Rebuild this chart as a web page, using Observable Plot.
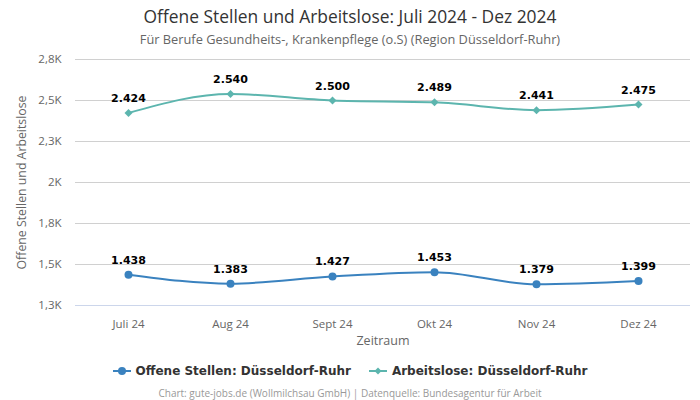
<!DOCTYPE html>
<html>
<head>
<meta charset="utf-8">
<script src="https://cdn.jsdelivr.net/npm/d3@7"></script>
<script src="https://cdn.jsdelivr.net/npm/@observablehq/plot@0.6"></script>
<style>
  html, body { margin: 0; padding: 0; background: #fff; width: 700px; height: 400px; overflow: hidden; }
  #wrap { position: relative; width: 700px; height: 400px; }
  .title { position: absolute; top: 4px; left: 0; width: 700px; text-align: center; font-family: "Open Sans", sans-serif; font-size: 17.4px; color: #333; line-height: 24px; }
  .subtitle { position: absolute; top: 30px; left: 0; width: 700px; text-align: center; font-family: "Open Sans", sans-serif; font-size: 12.8px; color: #666; line-height: 18px; }
  #chart { position: absolute; top: 50px; left: 0; }
  .legend { position: absolute; top: 364px; left: 0; width: 700px; display: flex; justify-content: center; gap: 18px; font-family: "DejaVu Sans", sans-serif; font-weight: bold; font-size: 12px; color: #333; }
  .legend .item { display: flex; align-items: center; gap: 5px; }
  .caption { position: absolute; top: 386px; left: 0; width: 700px; text-align: center; font-family: "Open Sans", sans-serif; font-size: 10px; color: #999; }
</style>
</head>
<body>
<div id="wrap">
  <div class="title">Offene Stellen und Arbeitslose: Juli 2024 - Dez 2024</div>
  <div class="subtitle">Für Berufe Gesundheits-, Krankenpflege (o.S) (Region Düsseldorf-Ruhr)</div>
  <div id="chart"></div>
  <div class="legend" id="legend"></div>
  <div class="caption">Chart: gute-jobs.de (Wollmilchsau GmbH) | Datenquelle: Bundesagentur für Arbeit</div>
</div>
<script>
const months = ["Juli 24", "Aug 24", "Sept 24", "Okt 24", "Nov 24", "Dez 24"];
const offeneStellen = [1438, 1383, 1427, 1453, 1379, 1399];
const arbeitslose = [2424, 2540, 2500, 2489, 2441, 2475];
const seriesNames = ["Offene Stellen: Düsseldorf-Ruhr", "Arbeitslose: Düsseldorf-Ruhr"];
const seriesColors = ["#3a82bf", "#5cb5ae"];
const yTicks = [1250, 1500, 1750, 2000, 2250, 2500, 2750];
const yTickLabels = ["1,3K", "1,5K", "1,8K", "2K", "2,3K", "2,5K", "2,8K"];
const xTitle = "Zeitraum";
const yTitle = "Offene Stellen und Arbeitslose";

const rows = [];
months.forEach((m, i) => {
  rows.push({month: m, value: offeneStellen[i], series: seriesNames[0]});
  rows.push({month: m, value: arbeitslose[i], series: seriesNames[1]});
});
const fmt = v => v.toLocaleString("de-DE");
const tickLabel = new Map(yTicks.map((t, i) => [t, yTickLabels[i]]));

const os = rows.filter(d => d.series === seriesNames[0]);
const al = rows.filter(d => d.series === seriesNames[1]);

const chart = Plot.plot({
  width: 700,
  height: 300,
  marginLeft: 75,
  marginRight: 10,
  marginTop: 9,
  marginBottom: 45,
  style: {fontFamily: "Open Sans, sans-serif", fontSize: "11px", color: "#666", background: "#fff", overflow: "visible"},
  x: {type: "point", domain: months, padding: 0.5, label: null},
  y: {domain: [1250, 2750], label: null},
  marks: [
    Plot.gridY(yTicks, {stroke: "#d0d0d0", strokeOpacity: 1, strokeWidth: 1}),
    Plot.ruleY([1250], {stroke: "#ccd6eb", strokeWidth: 1}),
    Plot.axisY({ticks: yTicks, tickSize: 0, tickPadding: 14, tickFormat: d => tickLabel.get(d), fill: "#666", fontSize: 11.5, label: null}),
    Plot.axisX({tickSize: 0, tickPadding: 14, fill: "#666", fontSize: 11.5, label: null}),
    Plot.text([yTitle], {frameAnchor: "left", rotate: -90, dx: -53, dy: 0, textAnchor: "middle", fill: "#666", fontSize: 12.3, text: d => d}),
    Plot.text([xTitle], {frameAnchor: "bottom", dy: 39, fill: "#666", fontSize: 12.5, text: d => d}),
    Plot.line(os, {x: "month", y: "value", stroke: seriesColors[0], strokeWidth: 2, curve: "monotone-x"}),
    Plot.line(al, {x: "month", y: "value", stroke: seriesColors[1], strokeWidth: 2, curve: "monotone-x"}),
    Plot.dot(os, {x: "month", y: "value", fill: seriesColors[0], r: 4, symbol: "circle"}),
    Plot.dot(al, {x: "month", y: "value", fill: seriesColors[1], r: 3.6, symbol: "diamond2"}),
    Plot.text(rows, {x: "month", y: "value", text: d => fmt(d.value), dy: -11, fill: "#000", fontWeight: "bold", fontSize: 11, fontFamily: "DejaVu Sans, sans-serif", lineAnchor: "bottom"})
  ]
});
document.getElementById("chart").appendChild(chart);

// Legend
const legend = document.getElementById("legend");
seriesNames.forEach((name, i) => {
  const item = document.createElement("div");
  item.className = "item";
  const marker = i === 0
    ? `<svg width="18" height="10"><line x1="0" y1="5" x2="18" y2="5" stroke="${seriesColors[i]}" stroke-width="2"/><circle cx="9" cy="5" r="4" fill="${seriesColors[i]}"/></svg>`
    : `<svg width="18" height="10"><line x1="0" y1="5" x2="18" y2="5" stroke="${seriesColors[i]}" stroke-width="2"/><path d="M9,1.5L12.5,5L9,8.5L5.5,5Z" fill="${seriesColors[i]}"/></svg>`;
  item.innerHTML = marker + `<span>${name}</span>`;
  legend.appendChild(item);
});
</script>
</body>
</html>
